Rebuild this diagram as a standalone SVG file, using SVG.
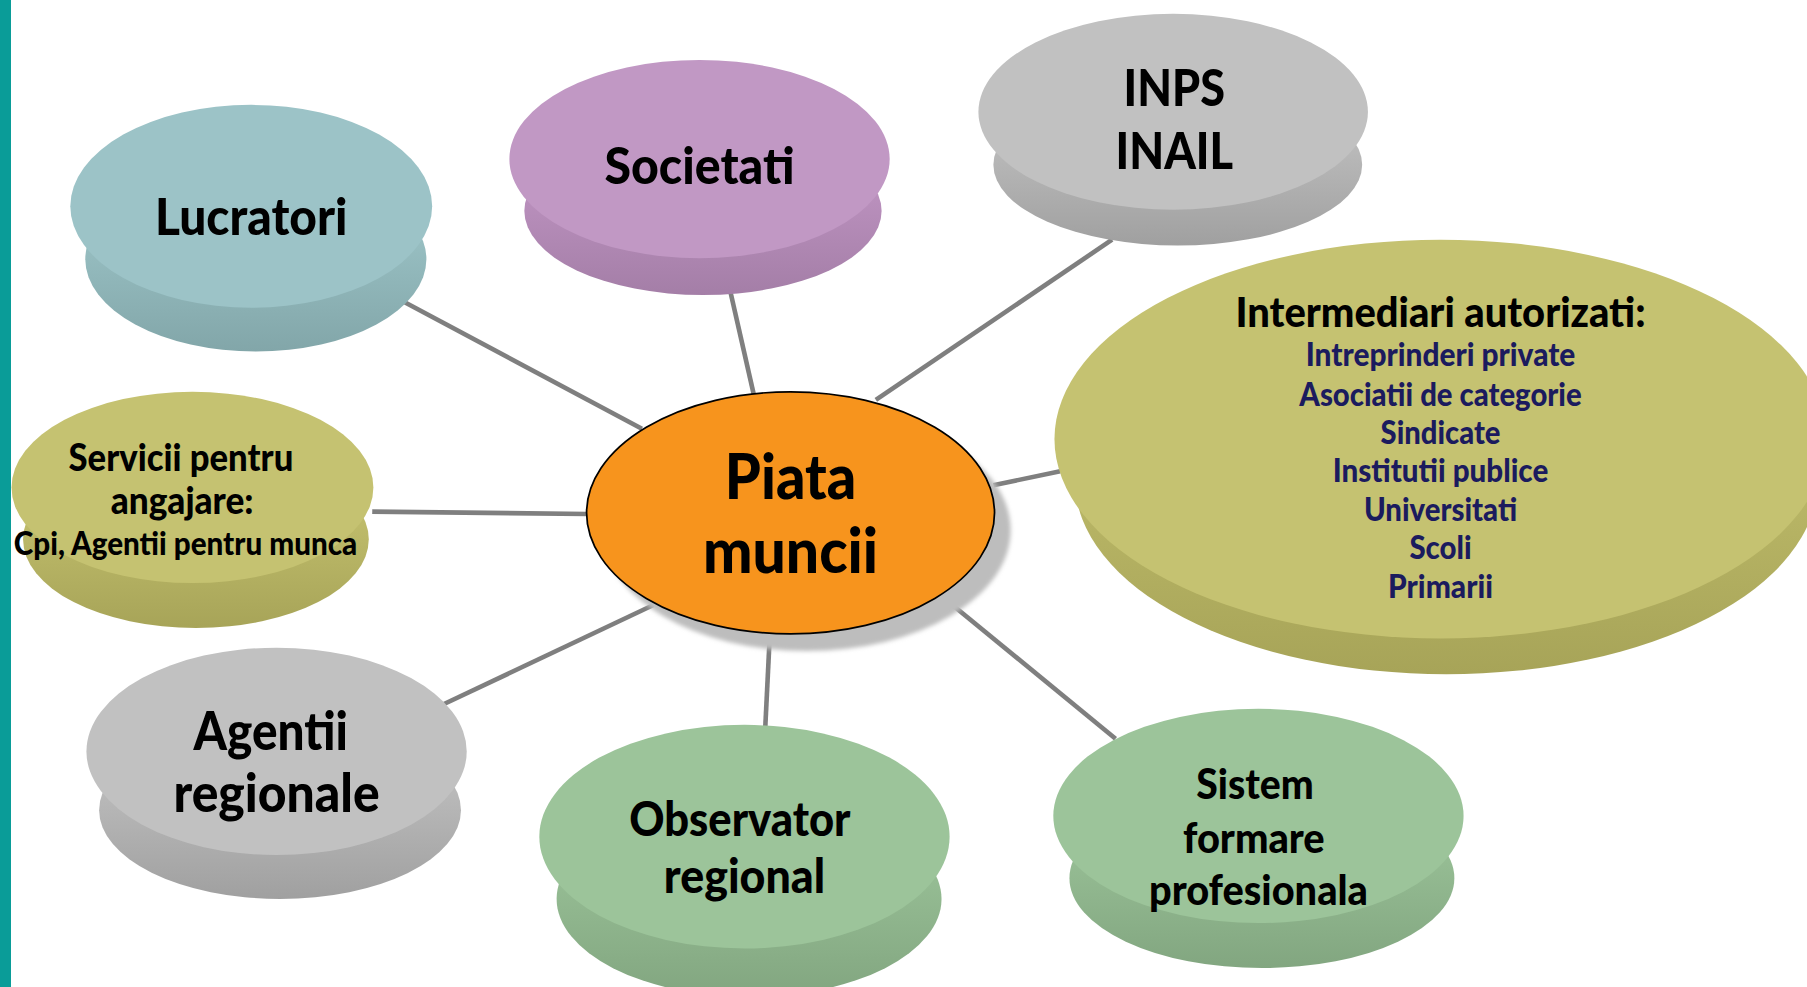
<svg xmlns="http://www.w3.org/2000/svg" width="1807" height="987" viewBox="0 0 1807 987">
<defs>
<style>
.t{font-family:Lato,"Liberation Sans",sans-serif;font-weight:900;fill:#000;text-anchor:middle}
.n{fill:#1b1b5e}
.con line{stroke:#7f7f7f;stroke-width:4;stroke-linecap:butt}
</style>
<linearGradient id="gTeal" x1="0" y1="0" x2="0" y2="1"><stop offset="0.4" stop-color="#97bec1"/><stop offset="1" stop-color="#82a6a9"/></linearGradient>
<linearGradient id="gPurp" x1="0" y1="0" x2="0" y2="1"><stop offset="0.4" stop-color="#ba90bd"/><stop offset="1" stop-color="#a47ea7"/></linearGradient>
<linearGradient id="gGray" x1="0" y1="0" x2="0" y2="1"><stop offset="0.4" stop-color="#b9b9b9"/><stop offset="1" stop-color="#a0a0a0"/></linearGradient>
<linearGradient id="gOlive" x1="0" y1="0" x2="0" y2="1"><stop offset="0.4" stop-color="#bebb6a"/><stop offset="1" stop-color="#a7a458"/></linearGradient>
<linearGradient id="gGreen" x1="0" y1="0" x2="0" y2="1"><stop offset="0.4" stop-color="#95bc93"/><stop offset="1" stop-color="#82a680"/></linearGradient>
<filter id="blur" x="-10%" y="-10%" width="120%" height="120%"><feGaussianBlur stdDeviation="2"/></filter>
</defs>
<rect width="1807" height="987" fill="#fff"/>
<rect x="0" y="0" width="11" height="987" fill="#0a9c98"/>
<g transform="scale(1.15242)">
<g id="connectors" class="con">
<line x1="343" y1="258" x2="557" y2="372"/>
<line x1="634" y1="254" x2="654" y2="342"/>
<line x1="965" y1="208" x2="760" y2="347"/>
<line x1="862" y1="421" x2="920" y2="409"/>
<line x1="323" y1="444" x2="510" y2="446"/>
<line x1="383" y1="612" x2="567" y2="525"/>
<line x1="668" y1="551" x2="664" y2="632"/>
<line x1="818" y1="518" x2="968" y2="641"/>
</g>
<g id="lucratori">
<ellipse cx="222" cy="225" rx="148" ry="80" fill="url(#gTeal)"/>
<ellipse cx="218" cy="179" rx="157" ry="88" fill="#9cc3c7"/>
<text class="t" x="218" y="204" font-size="45" textLength="167" lengthAdjust="spacingAndGlyphs">Lucratori</text>
</g>
<g id="societati">
<ellipse cx="610" cy="183" rx="155" ry="73" fill="url(#gPurp)"/>
<ellipse cx="607" cy="138" rx="165" ry="86" fill="#c198c4"/>
<text class="t" x="607" y="160" font-size="45" textLength="165" lengthAdjust="spacingAndGlyphs">Societati</text>
</g>
<g id="inps">
<ellipse cx="1022" cy="143" rx="160" ry="70" fill="url(#gGray)"/>
<ellipse cx="1018" cy="97" rx="169" ry="85" fill="#c1c1c1"/>
<text class="t" x="1019" y="92" font-size="45" textLength="88" lengthAdjust="spacingAndGlyphs">INPS</text>
<text class="t" x="1019" y="147" font-size="45" textLength="102" lengthAdjust="spacingAndGlyphs">INAIL</text>
</g>
<g id="intermediari">
<ellipse cx="1255" cy="418" rx="322" ry="167" fill="url(#gOlive)"/>
<ellipse cx="1250" cy="381" rx="335" ry="173" fill="#c5c271"/>
<text class="t" x="1250" y="284" font-size="36.7" textLength="356" lengthAdjust="spacingAndGlyphs">Intermediari autorizati:</text>
<text class="t n" x="1250" y="318" font-size="27.5" textLength="234" lengthAdjust="spacingAndGlyphs">Intreprinderi private</text>
<text class="t n" x="1250" y="352" font-size="27.5" textLength="245" lengthAdjust="spacingAndGlyphs">Asociatii de categorie</text>
<text class="t n" x="1250" y="385" font-size="27.5" textLength="104" lengthAdjust="spacingAndGlyphs">Sindicate</text>
<text class="t n" x="1250" y="418" font-size="27.5" textLength="187" lengthAdjust="spacingAndGlyphs">Institutii publice</text>
<text class="t n" x="1250" y="452" font-size="27.5" textLength="133" lengthAdjust="spacingAndGlyphs">Universitati</text>
<text class="t n" x="1250" y="485" font-size="27.5" textLength="54" lengthAdjust="spacingAndGlyphs">Scoli</text>
<text class="t n" x="1250" y="519" font-size="27.5" textLength="91" lengthAdjust="spacingAndGlyphs">Primarii</text>
</g>
<g id="servicii">
<ellipse cx="170" cy="468" rx="150" ry="77" fill="url(#gOlive)"/>
<ellipse cx="167" cy="423" rx="157" ry="83" fill="#c5c271"/>
<text class="t" x="157" y="409" font-size="32.5" textLength="195" lengthAdjust="spacingAndGlyphs">Servicii pentru</text>
<text class="t" x="158" y="446" font-size="32.5" textLength="124" lengthAdjust="spacingAndGlyphs">angajare:</text>
<text class="t" x="161" y="482" font-size="27.5" textLength="298" lengthAdjust="spacingAndGlyphs">Cpi, Agentii pentru munca</text>
</g>
<g id="agentii">
<ellipse cx="243" cy="703" rx="157" ry="77" fill="url(#gGray)"/>
<ellipse cx="240" cy="652" rx="165" ry="90" fill="#c1c1c1"/>
<text class="t" x="235" y="651" font-size="46" textLength="134" lengthAdjust="spacingAndGlyphs">Agentii</text>
<text class="t" x="240" y="705" font-size="46" textLength="179" lengthAdjust="spacingAndGlyphs">regionale</text>
</g>
<g id="observator">
<ellipse cx="650" cy="780" rx="167" ry="85" fill="url(#gGreen)"/>
<ellipse cx="646" cy="726" rx="178" ry="97" fill="#9cc49a"/>
<text class="t" x="642" y="725" font-size="41" textLength="192" lengthAdjust="spacingAndGlyphs">Observator</text>
<text class="t" x="646" y="775" font-size="41" textLength="140" lengthAdjust="spacingAndGlyphs">regional</text>
</g>
<g id="sistem">
<ellipse cx="1095" cy="762" rx="167" ry="78" fill="url(#gGreen)"/>
<ellipse cx="1092" cy="708" rx="178" ry="93" fill="#9cc49a"/>
<text class="t" x="1089" y="693" font-size="36.6" textLength="102" lengthAdjust="spacingAndGlyphs">Sistem</text>
<text class="t" x="1088" y="740" font-size="36.6" textLength="123" lengthAdjust="spacingAndGlyphs">formare</text>
<text class="t" x="1092" y="785" font-size="36.6" textLength="190" lengthAdjust="spacingAndGlyphs">profesionala</text>
</g>
<g id="piata">
<ellipse cx="700" cy="460" rx="177" ry="105" fill="#bdbdbd" filter="url(#blur)"/>
<ellipse cx="686" cy="445" rx="177" ry="105" fill="#f7941d" stroke="#000" stroke-width="1.5"/>
<text class="t" x="686" y="433" font-size="54" textLength="114" lengthAdjust="spacingAndGlyphs">Piata</text>
<text class="t" x="686" y="497" font-size="54" textLength="152" lengthAdjust="spacingAndGlyphs">muncii</text>
</g>
</g>
</svg>
